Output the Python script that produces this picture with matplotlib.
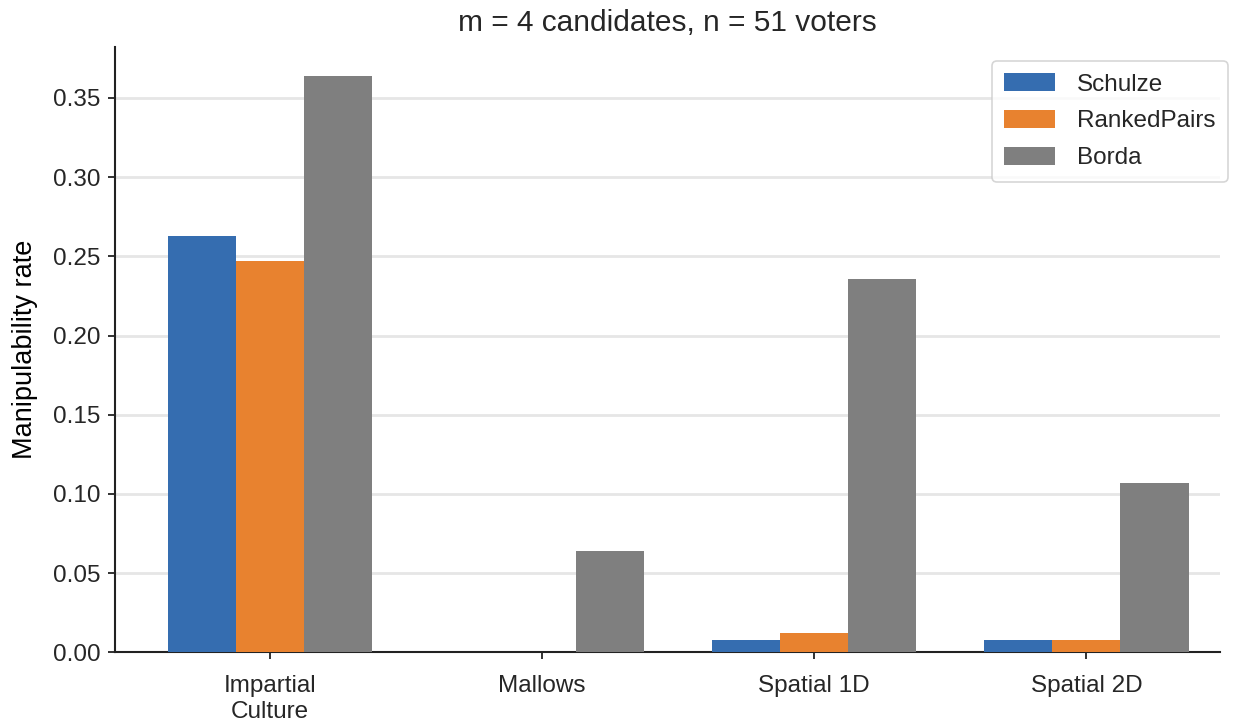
import numpy as np
import matplotlib.pyplot as plt

plt.rcParams["font.family"] = ["Liberation Sans", "DejaVu Sans"]
plt.rcParams["text.color"] = "#262626"
plt.rcParams["xtick.color"] = "#262626"
plt.rcParams["ytick.color"] = "#262626"

cultures = ["Impartial\nCulture", "Mallows", "Spatial 1D", "Spatial 2D"]
rules = ["Schulze", "RankedPairs", "Borda"]
schulze = [0.263, 0.0, 0.008, 0.008]
ranked_pairs = [0.247, 0.0, 0.012, 0.008]
borda = [0.364, 0.064, 0.236, 0.107]

colors = ["#356db0", "#e8822f", "#7f7f7f"]

fig = plt.figure(figsize=(12.46, 7.28), dpi=100)
ax = fig.add_axes([0.092, 0.104, 0.887, 0.831])

x = np.arange(len(cultures))
width = 0.25
for i, (name, vals) in enumerate(zip(rules, [schulze, ranked_pairs, borda])):
    ax.bar(x + (i - 1) * width, vals, width, color=colors[i], label=name, zorder=3)

yticks = np.arange(0, 0.36, 0.05)
ax.set_xticks(x)
ax.set_xticklabels(cultures, fontsize=17.5, linespacing=1.25)
ax.set_xlim(-0.57, 3.49)
ax.set_ylim(0, 0.382)
ax.set_yticks(yticks)
ax.set_yticklabels([f"{v:.2f}" for v in yticks], fontsize=17.5)
ax.tick_params(axis="both", length=5, width=1.3, color="#222222", pad=5)
ax.tick_params(axis="x", pad=11)

ax.yaxis.grid(True, color="#e6e6e6", linewidth=2, zorder=0)
ax.set_axisbelow(True)
for side in ["top", "right"]:
    ax.spines[side].set_visible(False)
for side in ["left", "bottom"]:
    ax.spines[side].set_linewidth(1.5)
    ax.spines[side].set_color("#222222")

ax.set_ylabel("Manipulability rate", fontsize=19.5, labelpad=11)
ax.set_title("m = 4 candidates, n = 51 voters", fontsize=21.5, pad=12)

leg = ax.legend(loc="upper right", fontsize=17.5, handlelength=2.1, handleheight=0.75,
                borderpad=0.5, labelspacing=0.6, handletextpad=0.9,
                frameon=True, fancybox=True, edgecolor="#cccccc",
                bbox_to_anchor=(1228 / 1246, 1 - 61 / 728),
                bbox_transform=fig.transFigure, borderaxespad=0)
leg.get_frame().set_linewidth(1.2)

fig.savefig("out.png", dpi=100)
